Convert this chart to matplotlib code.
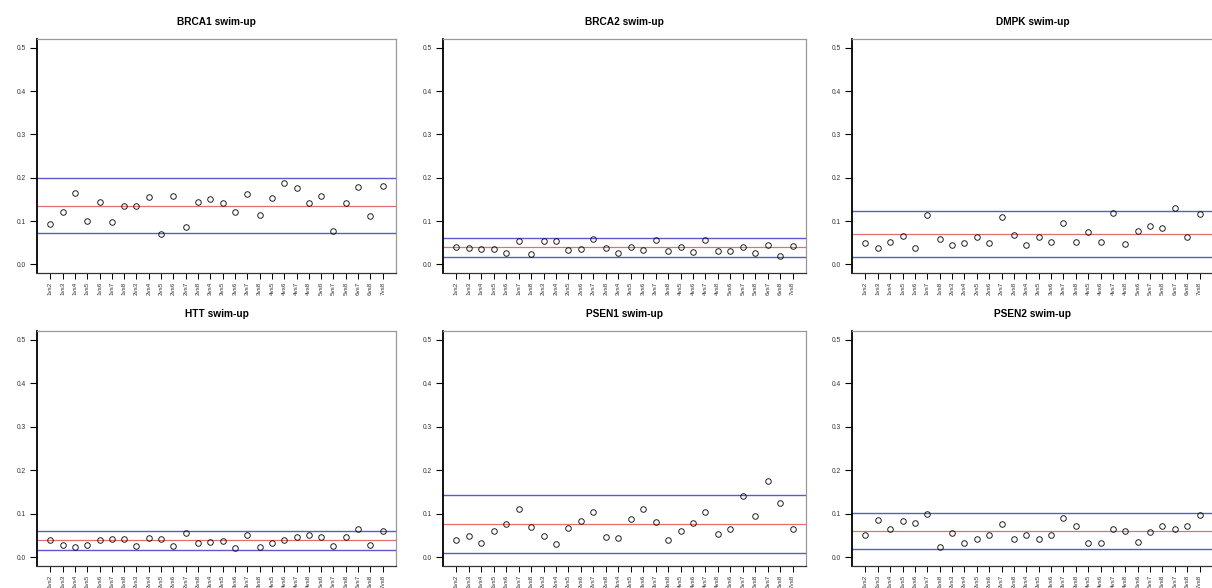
import matplotlib
matplotlib.use("Agg")
import matplotlib.pyplot as plt
import numpy as np

pairs = [f"{i}vs{j}" for i in range(1, 9) for j in range(i + 1, 9)]

titles = ["BRCA1 swim-up", "BRCA2 swim-up", "DMPK swim-up",
          "HTT swim-up", "PSEN1 swim-up", "PSEN2 swim-up"]

brca1 = [0.092, 0.120, 0.164, 0.099, 0.144, 0.098, 0.135, 0.135, 0.155, 0.069,
         0.158, 0.086, 0.144, 0.150, 0.142, 0.120, 0.162, 0.114, 0.152, 0.187,
         0.177, 0.141, 0.158, 0.077, 0.141, 0.178, 0.111, 0.180]
brca2 = [0.041, 0.038, 0.035, 0.036, 0.027, 0.053, 0.023, 0.054, 0.055, 0.033,
         0.035, 0.059, 0.037, 0.025, 0.041, 0.032, 0.057, 0.031, 0.041, 0.028,
         0.056, 0.031, 0.031, 0.040, 0.026, 0.044, 0.019, 0.043]
dmpk = [0.050, 0.038, 0.052, 0.065, 0.038, 0.115, 0.058, 0.045, 0.050, 0.063,
        0.050, 0.110, 0.068, 0.045, 0.062, 0.051, 0.095, 0.051, 0.075, 0.052,
        0.119, 0.047, 0.076, 0.088, 0.084, 0.131, 0.064, 0.117]
htt = [0.039, 0.029, 0.024, 0.029, 0.039, 0.041, 0.043, 0.027, 0.044, 0.042,
       0.025, 0.055, 0.032, 0.035, 0.038, 0.021, 0.052, 0.024, 0.034, 0.040,
       0.046, 0.051, 0.047, 0.027, 0.047, 0.064, 0.028, 0.060]
psen1 = [0.039, 0.049, 0.032, 0.060, 0.077, 0.111, 0.069, 0.050, 0.030, 0.068,
         0.084, 0.103, 0.046, 0.045, 0.087, 0.112, 0.082, 0.040, 0.060, 0.078,
         0.104, 0.053, 0.064, 0.140, 0.095, 0.176, 0.124, 0.065]
psen2 = [0.052, 0.086, 0.065, 0.084, 0.079, 0.100, 0.023, 0.056, 0.032, 0.042,
         0.052, 0.077, 0.041, 0.052, 0.042, 0.052, 0.090, 0.072, 0.033, 0.033,
         0.066, 0.060, 0.035, 0.058, 0.073, 0.064, 0.072, 0.098]

series = [brca1, brca2, dmpk, htt, psen1, psen2]

# reference lines: lower, mean, upper
lower_lines = [0.0715, 0.0176, 0.0177, 0.0168, 0.0093, 0.019]
mean_lines = [0.135, 0.039, 0.070, 0.039, 0.0766, 0.060]
upper_lines = [0.200, 0.0605, 0.123, 0.061, 0.143, 0.1015]

yticks = [0.0, 0.1, 0.2, 0.3, 0.4, 0.5]

W, H = 1212, 588
fig = plt.figure(figsize=(W / 100, H / 100), dpi=100)
plt.rcParams['font.family'] = ['Liberation Sans', 'DejaVu Sans']

col_px = [(37, 396), (443, 806), (852, 1213)]
row_px = [(39, 273), (331, 566)]

x = np.arange(1, len(pairs) + 1)
for k in range(6):
    r, c = divmod(k, 3)
    x0, x1 = col_px[c]
    y0, y1 = row_px[r]
    ax = fig.add_axes([x0 / W, 1 - y1 / H, (x1 - x0) / W, (y1 - y0) / H])
    ax.plot(x, series[k], linestyle='none', marker='o', markersize=4.0,
            markerfacecolor='none', markeredgecolor='#111111', markeredgewidth=0.65,
            zorder=3)
    ax.axhline(upper_lines[k], color='#5a5ac8', lw=1.0)
    ax.axhline(mean_lines[k], color='#e07070', lw=0.9)
    ax.axhline(lower_lines[k], color='#5a5ac8', lw=1.0)
    ax.set_xlim(1 - 0.04 * 27, 28 + 0.04 * 27)
    ax.set_ylim(-0.02, 0.52)
    ax.set_xticks(x)
    ax.set_xticklabels(pairs, rotation=90, fontsize=4.5, color='#333333')
    ax.set_yticks(yticks)
    ax.set_yticklabels([f"{v:.1f}" for v in yticks], fontsize=4.8, color='#333333')
    ax.tick_params(axis='y', length=5, width=0.8, pad=3, color='black')
    ax.tick_params(axis='x', length=4, width=0.7, pad=2, color='black')
    for s in ['top', 'right']:
        ax.spines[s].set_color('#999999')
        ax.spines[s].set_linewidth(0.9)
    ax.spines['left'].set_color('black')
    ax.spines['left'].set_linewidth(1.3)
    ax.spines['bottom'].set_color('#333333')
    ax.spines['bottom'].set_linewidth(0.9)
    ax.set_title(titles[k], fontsize=7.3, fontweight='bold', pad=10)

fig.savefig("out.png", dpi=100, facecolor='white')
